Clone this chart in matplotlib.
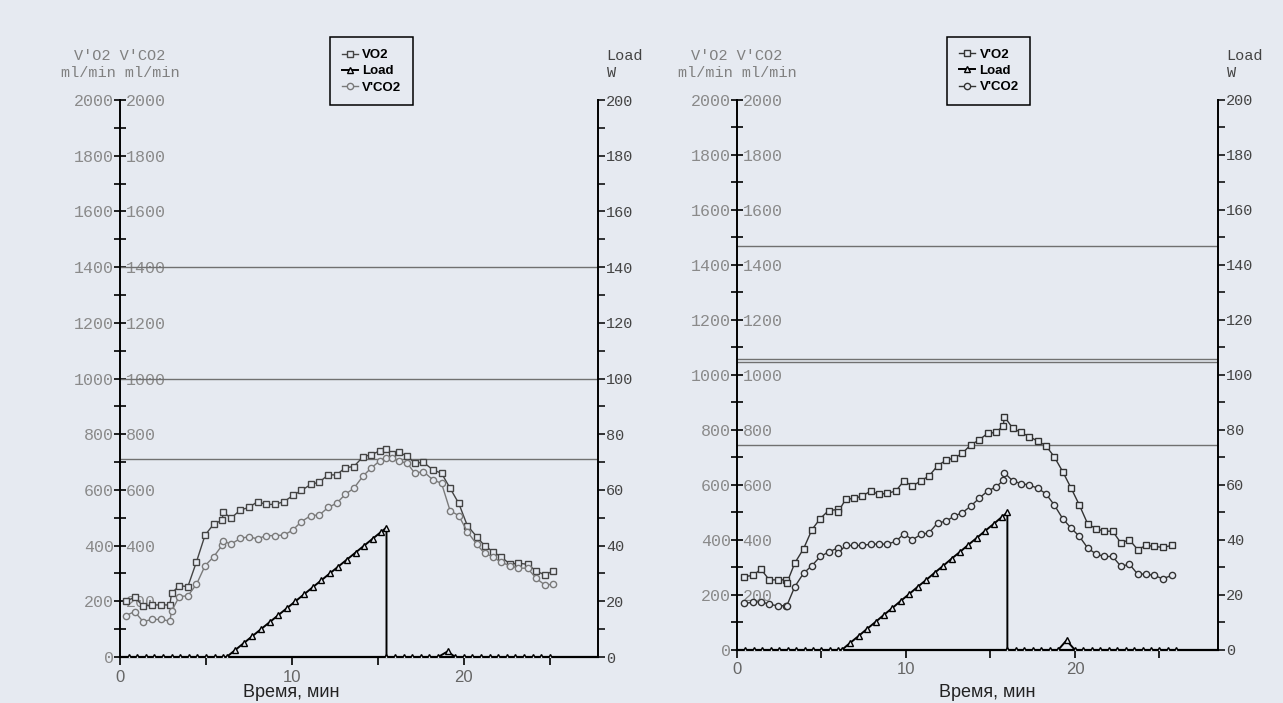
import matplotlib.pyplot as plt
from matplotlib.ticker import MultipleLocator

plt.rcParams['font.family'] = ['Liberation Mono', 'DejaVu Sans Mono']

bg = '#e6eaf1'

# ---- left test ----
t_left = [0.35, 0.85, 1.35, 1.85, 2.4, 2.9, 3.0, 3.45, 3.95, 4.45, 4.95, 5.45, 5.95, 6.0,
          6.45, 7.0, 7.5, 8.0, 8.5, 9.0, 9.55, 10.05, 10.55, 11.1, 11.6, 12.1, 12.6, 13.1,
          13.6, 14.15, 14.6, 15.1, 15.45, 15.8, 16.2, 16.7, 17.15, 17.65, 18.2, 18.7, 19.2,
          19.7, 20.2, 20.75, 21.2, 21.7, 22.15, 22.7, 23.15, 23.7, 24.2, 24.7, 25.2]
vo2_left = [201, 214, 183, 187, 187, 187, 229, 256, 253, 342, 438, 477, 492, 522, 498, 528,
            537, 558, 548, 548, 558, 580, 598, 620, 628, 654, 654, 680, 684, 720, 726, 740,
            747, 728, 735, 722, 696, 699, 672, 660, 606, 552, 472, 432, 400, 378, 360, 333,
            337, 333, 309, 295, 309]
vco2_left = [149, 163, 127, 135, 135, 129, 165, 217, 220, 261, 328, 360, 402, 417, 405, 426,
             432, 424, 436, 436, 438, 456, 486, 508, 510, 537, 552, 584, 606, 651, 678, 704,
             716, 714, 704, 696, 660, 666, 636, 624, 525, 508, 450, 405, 372, 360, 340, 328,
             319, 319, 283, 259, 261]
load_t_left = [0.5, 1.0, 1.5, 2.0, 2.5, 3.0, 3.5, 4.0, 4.5, 5.0, 5.5, 6.0, 6.2, 6.7, 7.2,
               7.7, 8.2, 8.7, 9.2, 9.7, 10.2, 10.7, 11.2, 11.7, 12.2, 12.7, 13.2, 13.7, 14.2,
               14.7, 15.2, 15.5, 15.5, 16.0, 16.5, 17.0, 17.5, 18.0, 18.5, 19.05, 19.5, 20.0,
               20.5, 21.0, 21.5, 22.0, 22.5, 23.0, 23.5, 24.0, 24.5, 25.0]
load_left = [0, 0, 0, 0, 0, 0, 0, 0, 0, 0, 0, 0, 0, 2.5, 5, 7.5, 10, 12.5, 15, 17.5, 20,
             22.5, 25, 27.5, 30, 32.5, 35, 37.5, 40, 42.5, 45, 46.5, 0, 0, 0, 0, 0, 0, 0, 2,
             0, 0, 0, 0, 0, 0, 0, 0, 0, 0, 0, 0]
hlines_left = [1400, 1000, 710]

# ---- right test ----
t_right = [0.43, 0.95, 1.42, 1.91, 2.4, 2.9, 2.95, 3.42, 3.94, 4.44, 4.93, 5.42, 5.96, 5.98,
           6.43, 6.92, 7.42, 7.91, 8.4, 8.9, 9.4, 9.88, 10.38, 10.88, 11.37, 11.87, 12.37,
           12.86, 13.33, 13.83, 14.32, 14.83, 15.33, 15.76, 15.82, 16.31, 16.8, 17.3, 17.8,
           18.28, 18.78, 19.27, 19.76, 20.26, 20.75, 21.24, 21.74, 22.23, 22.72, 23.22,
           23.71, 24.2, 24.7, 25.19, 25.72]
vo2_right = [267, 271, 294, 255, 255, 255, 243, 316, 368, 438, 478, 507, 511, 501, 548, 551,
             560, 578, 566, 570, 578, 615, 596, 615, 633, 670, 690, 698, 715, 746, 763, 788,
             791, 816, 849, 807, 791, 776, 759, 743, 702, 649, 590, 527, 459, 441, 432, 432,
             389, 401, 365, 380, 377, 373, 380]
vco2_right = [170, 173, 176, 166, 161, 161, 161, 230, 279, 307, 340, 356, 371, 352, 380, 380,
              380, 385, 385, 385, 395, 422, 401, 420, 426, 462, 468, 487, 499, 523, 551, 578,
              593, 617, 645, 615, 605, 600, 588, 568, 527, 478, 444, 413, 371, 349, 340, 340,
              304, 312, 276, 276, 271, 259, 271]
load_t_right = [0.5, 1.0, 1.5, 2.0, 2.5, 3.0, 3.5, 4.0, 4.5, 5.0, 5.5, 6.0, 6.2, 6.7, 7.2,
                7.7, 8.2, 8.7, 9.2, 9.7, 10.2, 10.7, 11.2, 11.7, 12.2, 12.7, 13.2, 13.7, 14.2,
                14.7, 15.2, 15.7, 16.0, 16.0, 16.5, 17.0, 17.5, 18.0, 18.5, 19.0, 19.5, 20.0,
                20.5, 21.0, 21.5, 22.0, 22.5, 23.0, 23.5, 24.0, 24.5, 25.0, 25.5, 26.0]
load_right = [0, 0, 0, 0, 0, 0, 0, 0, 0, 0, 0, 0, 0, 2.6, 5.1, 7.7, 10.2, 12.8, 15.3, 17.9,
              20.4, 23.0, 25.5, 28.1, 30.6, 33.2, 35.7, 38.3, 40.8, 43.4, 45.9, 48.5, 50.0,
              0, 0, 0, 0, 0, 0, 0, 3.5, 0, 0, 0, 0, 0, 0, 0, 0, 0, 0, 0, 0, 0]
hlines_right = [1470, 1058, 1048, 745]

x_ticks = [0, 10, 20]
y_ticks = list(range(0, 2001, 200))
load_ticks = list(range(0, 201, 20))

fig = plt.figure(figsize=(12.83, 7.03), dpi=100, facecolor=bg)


def panel(rect, xmax, t, vo2, vco2, lt, load, hl, c_vo2, c_vco2, names, xlab_x, xlab_y, leg_xy):
    ax = fig.add_axes(rect)
    ax.set_facecolor(bg)
    ax.set_xlim(0, xmax)
    ax.set_ylim(0, 2000)
    for v in hl:
        ax.axhline(v, color='#707070', lw=1)
    h1, = ax.plot(t, vo2, color=c_vo2, lw=1, marker='s', ms=4.5, mfc=bg, mec=c_vo2, mew=1)
    h2, = ax.plot(t, vco2, color=c_vco2, lw=1, marker='o', ms=4.5, mfc=bg, mec=c_vco2, mew=1)

    ax.spines['top'].set_visible(False)
    ax.spines['right'].set_visible(False)
    ax.spines['left'].set_linewidth(1.4)
    ax.spines['bottom'].set_linewidth(1.6)

    ax.set_xticks(x_ticks)
    ax.set_xticklabels([str(v) for v in x_ticks], fontfamily='Liberation Sans',
                       fontsize=12, color='#666666')
    ax.xaxis.set_minor_locator(MultipleLocator(5))
    ax.tick_params(axis='x', which='both', direction='out', length=6, width=1.2, pad=3)

    ax.set_yticks(y_ticks)
    ax.yaxis.set_minor_locator(MultipleLocator(100))
    ax.tick_params(axis='y', which='both', direction='inout', length=9, width=1.2,
                   labelsize=12, labelcolor='#8a8a8a', pad=0)

    sec = ax.secondary_yaxis(0)
    sec.set_alignment('right')
    sec.spines['right'].set_visible(False)
    sec.set_yticks(y_ticks[1:])
    sec.tick_params(axis='y', length=0, pad=4, labelsize=12, labelcolor='#8a8a8a')

    ax.set_xlabel('Время, мин', fontfamily='Liberation Sans', fontsize=13, color='#222222')
    ax.xaxis.set_label_coords(xlab_x, xlab_y)

    ax.text(0, 1.036, "V'O2 V'CO2\nml/min ml/min", transform=ax.transAxes,
            ha='center', va='bottom', fontsize=11, color='#808080', linespacing=1.3)

    ax2 = ax.twinx()
    ax2.set_ylim(0, 200)
    h3, = ax2.plot(lt, load, color='black', lw=1.4, marker='^', ms=4.5, mfc=bg,
                   mec='black', mew=1)
    for s in ['top', 'left', 'bottom']:
        ax2.spines[s].set_visible(False)
    ax2.spines['right'].set_linewidth(1.4)
    ax2.set_yticks(load_ticks)
    ax2.yaxis.set_minor_locator(MultipleLocator(10))
    ax2.tick_params(axis='y', which='both', direction='out', length=5, width=1.1,
                    labelsize=11, labelcolor='#444444', pad=1)
    ax2.text(1.018, 1.036, 'Load\nW', transform=ax2.transAxes, ha='left', va='bottom',
             fontsize=11, color='#444444', linespacing=1.3)

    leg = ax2.legend([h1, h3, h2], names, loc='upper left', bbox_to_anchor=leg_xy,
                     frameon=True, fancybox=False, edgecolor='black', facecolor=bg,
                     framealpha=1, handlelength=1.2, handletextpad=0.35, borderpad=0.9,
                     labelspacing=0.3, borderaxespad=0,
                     prop={'family': 'Liberation Sans', 'size': 9.5, 'weight': 'bold'})
    leg.get_frame().set_linewidth(1.1)
    return ax


panel([0.0935, 0.0654, 0.3726, 0.7923], 27.8, t_left, vo2_left, vco2_left,
      load_t_left, load_left, hlines_left, '#444444', '#7a7a7a',
      ["VO2", 'Load', "V'CO2"], 0.358, -0.048, (0.439, 1.113))
panel([0.5744, 0.0754, 0.3749, 0.7824], 28.46, t_right, vo2_right, vco2_right,
      load_t_right, load_right, hlines_right, '#333333', '#333333',
      ["V'O2", 'Load', "V'CO2"], 0.52, -0.062, (0.437, 1.115))

fig.savefig('out.png', dpi=100, facecolor=bg)
